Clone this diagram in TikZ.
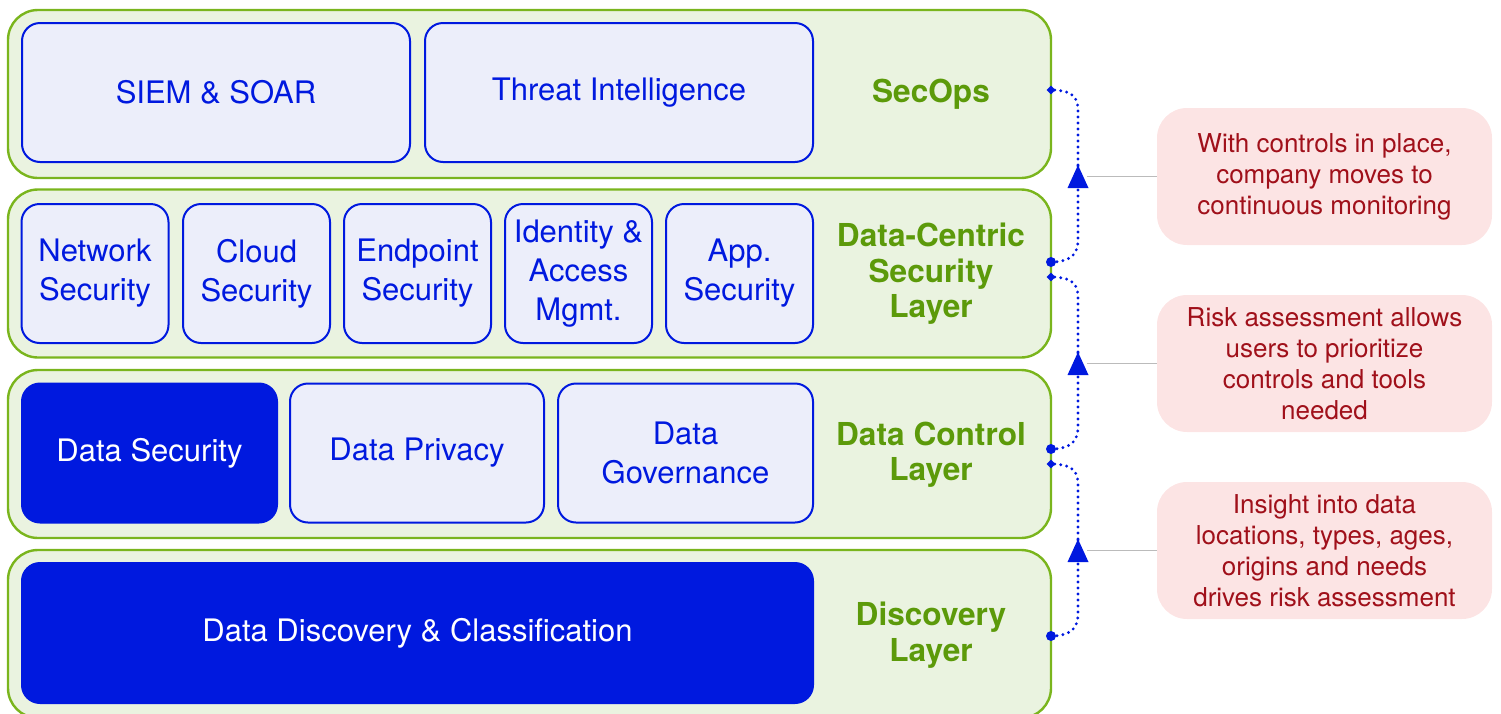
\documentclass[tikz,border=0pt]{standalone}
\usepackage{fontspec}
\setmainfont{TeX Gyre Heros}
\usetikzlibrary{arrows.meta,shapes.geometric,calc}

\definecolor{layerfill}{HTML}{EAF3E0}
\definecolor{layerline}{HTML}{7AB51D}
\definecolor{layertext}{HTML}{5C9A0A}
\definecolor{boxblue}{HTML}{0019DF}
\definecolor{boxfill}{HTML}{ECEEFA}
\definecolor{notefill}{HTML}{FCE4E4}
\definecolor{notetext}{HTML}{A0101A}
\definecolor{leader}{HTML}{BBBBBB}

\tikzset{
  layerbox/.style={draw=layerline, fill=layerfill, line width=1.2pt,
    rounded corners=15pt, minimum width=521.5pt, minimum height=84pt},
  tool/.style={draw=boxblue, fill=boxfill, line width=1pt, rounded corners=9pt,
    text=boxblue, align=center, font=\fontsize{15.5}{19.5}\selectfont,
    minimum height=69.5pt, inner sep=0pt},
  toolsolid/.style={tool, fill=boxblue, text=white},
  layerlabel/.style={text=layertext, align=center,
    font=\fontsize{15.8}{17.75}\selectfont\bfseries},
  note/.style={fill=notefill, rounded corners=15pt, text=notetext, align=center,
    font=\fontsize{13}{15.5}\selectfont, minimum width=167.5pt,
    minimum height=68.5pt, inner sep=0pt},
  flow/.style={draw=boxblue, line width=1.6pt, line cap=round,
    dash pattern=on 0pt off 3pt},
  startdot/.style={circle, fill=boxblue, inner sep=0pt, minimum size=5pt},
  enddiamond/.style={diamond, fill=boxblue, inner sep=0pt, minimum size=4.5pt},
  leaderline/.style={draw=leader, line width=0.8pt}
}

\begin{document}
\begin{tikzpicture}[x=0.5pt, y=-0.5pt]
\useasboundingbox (0,0) rectangle (1501,713);

% layers
\node[layerbox] (secops)  at (529.5,94)    {};
\node[layerbox] (dcs)     at (529.5,273.5) {};
\node[layerbox] (dctl)    at (529.5,454)   {};
\node[layerbox] (disc)    at (529.5,634)   {};

% SecOps
\node[tool, minimum width=194pt] (siem)   at (216,92.5) {SIEM \& SOAR};
\node[tool, minimum width=194pt] (threat) at (619,92.5) {Threat Intelligence};
\node[layerlabel] (lsecops) at (931,94) {SecOps};

% Data-centric security layer
\node[tool, minimum width=73.5pt] (net)   at (95,273.5)    {Network\\Security};
\node[tool, minimum width=73.5pt] (cloud) at (256.5,273.5) {Cloud\\Security};
\node[tool, minimum width=73.5pt] (endp)  at (417.5,273.5) {Endpoint\\Security};
\node[tool, minimum width=73.5pt] (iam)   at (578.5,273.5) {Identity \&\\Access\\Mgmt.};
\node[tool, minimum width=73.5pt] (app)   at (739.5,273.5) {App.\\Security};
\node[layerlabel] (ldcs) at (931,274) {Data-Centric\\Security\\Layer};

% Data control layer
\node[toolsolid, minimum width=127.5pt] (dsec)  at (149.5,453) {Data Security};
\node[tool, minimum width=127pt]        (dpriv) at (417,453)   {Data Privacy};
\node[tool, minimum width=127.5pt]      (dgov)  at (685.5,453) {Data\\Governance};
\node[layerlabel] (ldctl) at (931,454.5) {Data Control\\Layer};

% Discovery layer
\node[toolsolid, minimum width=395.5pt, minimum height=70pt] (ddc) at (417.5,633)
  {Data Discovery \& Classification};
\node[layerlabel] (ldisc) at (931,635) {Discovery\\Layer};

% notes
\node[note] (n1) at (1324.5,176.5) {With controls in place,\\company moves to\\continuous monitoring};
\node[note] (n2) at (1324.5,363.5) {Risk assessment allows\\users to prioritize\\controls and tools\\needed};
\node[note] (n3) at (1324.5,550.5) {Insight into data\\locations, types, ages,\\origins and needs\\drives risk assessment};

% connector end points on the layer edges
\coordinate (s1) at (1051,262);
\coordinate (e1) at (1051,90);
\coordinate (s2) at (1051,449);
\coordinate (e2) at (1051,277);
\coordinate (s3) at (1051,636);
\coordinate (e3) at (1051,464);
% arrow tips and leader ends
\coordinate (a1) at (1078,165);
\coordinate (a2) at (1078,352);
\coordinate (a3) at (1078,539);
\coordinate (g1) at (1087,176.5);
\coordinate (g2) at (1087,363.5);
\coordinate (g3) at (1087,550.5);

% leader lines from the notes
\draw[leaderline] (n1.west) -- (g1);
\draw[leaderline] (n2.west) -- (g2);
\draw[leaderline] (n3.west) -- (g3);

% upward flows between layers
\foreach \s/\e/\a in {s1/e1/a1, s2/e2/a2, s3/e3/a3}{
  \draw[flow] (\s) .. controls +(22,0) and +(0,12) .. ($(\s)+(27,-22)$) -- (\a);
  \draw[flow] (\a) -- ($(\e)+(27,20)$) .. controls +(0,-12) and +(22,0) .. (\e);
  \fill[boxblue] (\a) -- ++(-10.5,23) -- ++(21,0) -- cycle;
  \node[startdot] at (\s) {};
  \node[enddiamond] at (\e) {};
}
\end{tikzpicture}
\end{document}
